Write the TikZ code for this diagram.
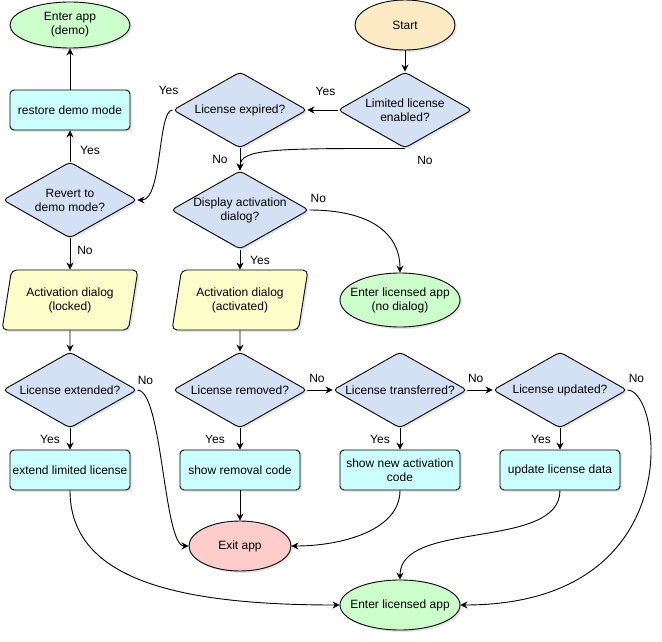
\documentclass[tikz,border=0pt]{standalone}
\usepackage{fontspec}
\setmainfont{Liberation Sans}
\usetikzlibrary{shapes.geometric,positioning,arrows.meta,shadows}

\definecolor{endgreen}{HTML}{CCFFCC}
\definecolor{startorange}{HTML}{FFEAC6}
\definecolor{exitred}{HTML}{FFCCCC}
\definecolor{askblue}{HTML}{D4E1F5}
\definecolor{stepcyan}{HTML}{CCFFFF}
\definecolor{dialogyellow}{HTML}{FFFFCC}

\begin{document}
\begin{tikzpicture}[x=1pt,y=1pt,node distance=90pt,on grid,
    font=\fontsize{12}{14}\selectfont,
    base/.style={draw,line width=0.9pt,align=center,
        drop shadow={opacity=0.2,shadow xshift=2pt,shadow yshift=-2pt}},
    term/.style={base,ellipse,inner xsep=-10pt,inner ysep=1pt,minimum width=120pt,minimum height=50pt},
    ask/.style={base,diamond,aspect=1.76,inner sep=0pt,fill=askblue,
        minimum width=134pt,minimum height=76pt,rounded corners=4pt},
    stepbox/.style={base,rectangle,rounded corners=4pt,fill=stepcyan,
        minimum width=120pt,minimum height=40pt,inner sep=2pt},
    dialog/.style={base,trapezium,trapezium left angle=75,trapezium right angle=105,
        trapezium stretches=true,fill=dialogyellow,rounded corners=5pt,
        minimum width=136pt,minimum height=60pt,inner sep=1pt},
    arr/.style={-{Stealth[length=7pt,width=7pt]},line width=0.9pt},
    lbl/.style={inner sep=0pt}]
    \useasboundingbox (0,0) rectangle (662,-642);

    % first column on the right: start and the two licence questions
    \node[term,fill=startorange,minimum width=100pt] (start) at (405,-25) {Start};
    \node[ask] (lim) [below=85pt of start] {Limited license\\enabled?};
    \node[ask] (exp) [left=165pt of lim] {License expired?};
    \node[ask] (disp) [below=100pt of exp] {Display activation\\dialog?};
    \node[term,fill=endgreen,minimum height=54pt] (nodlg) [below right=90pt and 160pt of disp] {Enter licensed app\\(no dialog)};

    % demo branch on the left
    \node[ask] (rev) [below left=90pt and 170pt of exp] {Revert to\\demo mode?};
    \node[stepbox] (restore) [above=90pt of rev] {restore demo mode};
    \node[term,fill=endgreen,minimum height=46pt] (demo) [above=85pt of restore] {Enter app\\(demo)};
    \node[dialog] (locked) [below=100pt of rev] {Activation dialog\\(locked)};
    \node[ask] (ext) [below=90pt of locked] {License extended?};
    \node[stepbox] (extend) [below=80pt of ext] {extend limited license};

    % activated branch
    \node[dialog] (act) [below=90pt of disp] {Activation dialog\\(activated)};
    \node[ask] (rem) [below=90pt of act] {License removed?};
    \node[stepbox] (showrem) [below=80pt of rem] {show removal code};
    \node[term,fill=exitred,minimum width=102pt] (exit) [below=76pt of showrem] {Exit app};
    \node[ask] (trans) [right=160pt of rem] {License transferred?};
    \node[stepbox] (newcode) [below=80pt of trans] {show new activation\\code};
    \node[ask] (upd) [right=160pt of trans] {License updated?};
    \node[stepbox] (updcode) [below=80pt of upd] {update license data};
    \node[term,fill=endgreen] (elic) [below=135pt of newcode] {Enter licensed app};

    \path[arr] (start) edge (lim)
               (lim) edge node[lbl,pos=0.4,yshift=19pt] {Yes} (exp)
               (exp) edge node[lbl,xshift=-20pt] {No} (disp)
               (rev) edge node[lbl,xshift=20pt,yshift=-4pt] {Yes} (restore)
               (restore) edge (demo)
               (rev) edge node[lbl,xshift=15pt,yshift=4pt] {No} (locked)
               (locked) edge (ext)
               (ext) edge node[lbl,xshift=-20pt] {Yes} (extend)
               (disp) edge node[lbl,xshift=20pt,yshift=-1pt] {Yes} (act)
               (act) edge (rem)
               (rem) edge node[lbl,xshift=-25pt] {Yes} (showrem)
               (showrem) edge (exit)
               (rem) edge node[lbl,pos=0.38,yshift=12pt] {No} (trans)
               (trans) edge node[lbl,xshift=-20pt] {Yes} (newcode)
               (trans) edge node[lbl,pos=0.33,yshift=12pt] {No} (upd)
               (upd) edge node[lbl,xshift=-19pt] {Yes} (updcode);

    % curved connectors
    \draw[arr] (lim.south) .. controls +(-130,0) and +(0,22) .. (disp.north)
        node[lbl,pos=0,xshift=20pt,yshift=-12pt] {No};
    \draw[arr] (exp.west) .. controls +(-15,0) and +(25,0) .. (rev.east)
        node[lbl,pos=0,xshift=-4pt,yshift=20pt] {Yes};
    \draw[arr] (disp.east) .. controls +(60,0) and +(0,40) .. (nodlg.north)
        node[lbl,pos=0,xshift=9pt,yshift=12pt] {No};
    \draw[arr] (ext.east) .. controls +(25,0) and +(-25,0) .. (exit.west)
        node[lbl,pos=0,xshift=8pt,yshift=10pt] {No};
    \draw[arr] (extend.south) .. controls +(0,-90) and +(-160,0) .. (elic.west);
    \draw[arr] (newcode.south) .. controls +(0,-40) and +(50,0) .. (exit.east);
    \draw[arr] (updcode.south) .. controls +(0,-60) and +(0,60) .. (elic.north);
    \draw[arr] (upd.east) .. controls +(35,0) and +(230,0) .. (elic.east)
        node[lbl,pos=0,xshift=9pt,yshift=12pt] {No};
\end{tikzpicture}
\end{document}
